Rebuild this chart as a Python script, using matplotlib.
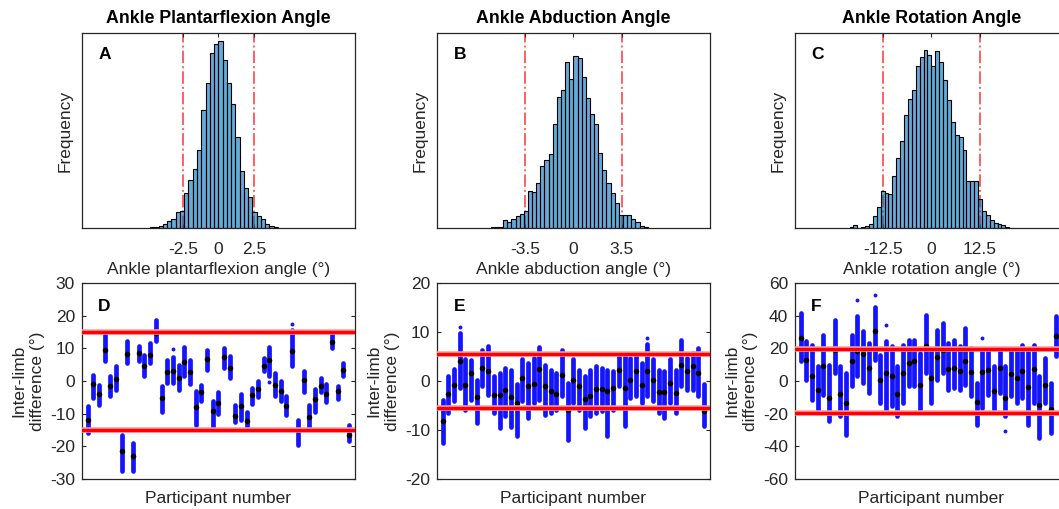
import numpy as np
import matplotlib
matplotlib.use('Agg')
import matplotlib.pyplot as plt

plt.rcParams['font.family'] = ['Liberation Sans', 'DejaVu Sans']
plt.rcParams['font.size'] = 12.5
plt.rcParams['axes.unicode_minus'] = False
plt.rcParams['text.color'] = '#262626'
plt.rcParams['axes.labelcolor'] = '#262626'
plt.rcParams['xtick.color'] = '#262626'
plt.rcParams['ytick.color'] = '#262626'

# ---- histogram data (bin start, bin width, counts) ----
pf_start, pf_width = -4.8, 0.3
pf_counts = [3, 4, 7, 13, 22, 28, 49, 50, 107, 145, 177, 235, 355, 437, 528,
             555, 565, 507, 437, 373, 275, 173, 120, 95, 48, 37, 28, 13, 7, 2]
ab_start, ab_width = -6.0, 0.3
ab_counts = [2, 3, 4, 23, 17, 28, 35, 42, 52, 113, 110, 137, 187, 205, 223, 315,
             395, 417, 500, 449, 520, 512, 455, 392, 345, 315, 225, 175, 135, 107,
             75, 40, 40, 40, 27, 17, 5, 2]
rot_start, rot_width = -21.0, 1.0
rot_counts = [2, 8, 1, 4, 7, 13, 35, 62, 113, 107, 102, 158, 210, 263, 340, 390,
              415, 490, 517, 537, 523, 490, 533, 500, 445, 385, 320, 280, 275, 235,
              143, 143, 143, 88, 50, 40, 25, 15, 13, 10, 4, 1]

pf_limit, ab_limit, rot_limit = 2.5, 3.5, 12.5

# ---- inter-limb differences per participant: median, lowest, highest ----
pf_med = [-11.8, -0.9, -3.9, 9.6, -1.6, 0.6, -21.5, 8.4, -22.9, 8.6, 4.5, 8.0, 14.7,
          -5.3, 2.7, 3.1, 0.9, 5.7, 2.9, -8.1, -3.5, 6.7, -9.3, -6.7, 7.3, 4.0, -10.6,
          -7.8, -12.3, -4.2, -2.4, 4.7, 6.5, -1.1, -3.2, -7.8, 9.3, -14.9, 0.4, -11.1,
          -5.5, -1.4, -4.0, 11.8, -3.1, 3.5, -16.4]
pf_lo = [-15.9, -5.2, -7.2, 6.0, -4.7, -2.7, -27.7, 5.5, -27.7, 6.0, 1.6, 5.5, 12.1,
         -9.6, -0.6, -0.6, -2.7, 1.6, -0.8, -13.4, -6.2, 3.5, -14.0, -10.0, 4.0, 1.0,
         -12.5, -12.0, -14.0, -7.0, -5.0, 3.0, 1.5, -4.5, -6.0, -10.5, 4.5, -19.5, -3.5,
         -14.5, -9.5, -3.5, -6.5, 10.0, -5.5, 1.5, -18.5]
pf_hi = [-7.8, 1.9, -1.1, 14.2, 1.4, 4.5, -16.6, 12.1, -19.0, 10.8, 8.1, 11.6, 18.8,
         -1.6, 6.3, 7.3, 5.0, 10.4, 6.5, -3.2, -1.1, 9.5, -6.0, -3.5, 10.0, 7.5, -7.5,
         -4.0, -9.5, -2.0, 0.0, 7.0, 10.5, 2.5, 0.0, -4.5, 15.5, -12.0, 3.0, -7.5, -2.5,
         1.0, -1.0, 14.5, -1.5, 5.5, -13.5]
pf_out_id = [16, 33, 37]
pf_out_val = [9.8, -0.3, 17.5]
pf_band = 15

ab_med = [-8.2, -2.7, -0.9, 4.1, -0.9, 1.6, -3.3, 2.7, 2.1, -2.8, -2.9, -1.8, -3.3,
          -4.5, 0.6, -1.0, -0.7, 2.4, -1.0, -2.1, -2.6, 1.3, -5.9, 0.3, -1.0, -3.7,
          -3.0, -1.6, -1.6, -2.0, -1.5, 2.3, -1.5, 0.1, 2.1, -0.9, 2.1, 0.1, -2.2, -2.2,
          -0.4, -2.4, 3.3, 2.1, 3.0, 1.6, -6.1]
ab_lo = [-12.7, -6.5, -4.1, -1.4, -5.9, -3.8, -8.6, -1.1, -2.8, -6.5, -9.6, -7.2, -9.3,
         -11.3, -4.1, -7.6, -4.5, -3.8, -6.9, -6.5, -5.9, -3.1, -12.0, -4.5, -5.9, -9.6,
         -7.2, -6.5, -6.2, -11.3, -5.9, -1.1, -9.2, -3.5, -3.1, -4.5, -3.1, -4.1, -6.5,
         -7.6, -4.5, -6.5, -1.1, -1.8, -1.8, -3.1, -9.2]
ab_hi = [-3.8, 1.0, 2.4, 9.8, 4.4, 4.2, 0.3, 6.4, 7.1, 1.0, 1.6, 2.7, 2.3, -0.7, 4.4,
         3.7, 4.7, 6.9, 3.3, 2.3, 1.6, 6.3, -0.5, 4.4, 2.3, 1.0, 2.3, 3.0, 2.7, 2.3,
         2.0, 5.4, 5.0, 4.7, 5.0, 3.7, 7.5, 4.4, 2.3, 2.0, 4.4, 2.3, 8.4, 4.7, 5.7, 6.7,
         -0.7]
ab_out_id = [4, 37]
ab_out_val = [11.0, 8.8]
ab_band = 5.5

rot_med = [26.3, 13.1, 2.9, -5.3, 9.0, -10.6, 19.2, -7.8, -13.5, 12.0, 18.6, 16.5, 8.0,
           30.8, 0.8, 4.9, 2.9, -7.8, 4.9, 11.0, 12.0, -2.2, 21.2, 1.8, 14.5, 19.2, 7.3,
           8.0, 6.3, 12.4, 5.3, -12.9, 5.3, 6.9, -6.1, 8.0, -10.4, 4.3, 1.8, 6.3, -3.9,
           7.3, -14.5, -2.7, -17.1, 27.8]
rot_lo = [12.0, 0.8, -11.4, -18.6, -8.4, -24.7, 4.9, -21.6, -32.9, -3.3, 2.9, -1.2,
          -7.3, 13.1, -13.5, -17.6, -15.5, -21.6, -13.5, -3.3, -3.3, -17.6, 4.9, -13.5,
          0.8, 4.9, -5.3, -4.3, -5.3, -2.2, -9.4, -26.7, -16.5, -8.4, -17.6, -7.3, -21.6,
          -9.4, -13.5, -10.4, -26.7, -13.5, -34.9, -13.5, -31.8, 15.1]
rot_hi = [41.6, 24.3, 22.2, 9.0, 28.4, 10.0, 37.6, 9.0, 4.9, 28.4, 39.6, 30.4, 23.3,
          45.0, 16.1, 24.3, 21.2, 9.0, 22.2, 25.3, 25.3, 17.1, 40.6, 19.2, 31.4, 35.5,
          23.3, 25.3, 21.2, 32.4, 20.2, -1.2, 18.2, 18.2, 9.0, 18.2, 9.0, 18.2, 18.2,
          22.2, 19.2, 22.2, 2.9, 14.1, -1.2, 39.6]
rot_out_id = [11, 14, 16, 33, 37]
rot_out_val = [49.8, 52.9, 34.5, 26.3, -30.8]
rot_band = 19.5

n_participants = 47

hist_panels = [
    ('Ankle Plantarflexion Angle', 'A', 'Ankle plantarflexion angle (°)',
     pf_start, pf_width, pf_counts, pf_limit, 9.6, ['-2.5', '0', '2.5']),
    ('Ankle Abduction Angle', 'B', 'Ankle abduction angle (°)',
     ab_start, ab_width, ab_counts, ab_limit, 9.9, ['-3.5', '0', '3.5']),
    ('Ankle Rotation Angle', 'C', 'Ankle rotation angle (°)',
     rot_start, rot_width, rot_counts, rot_limit, 35, ['-12.5', '0', '12.5']),
]
diff_panels = [
    ('D', pf_med, pf_lo, pf_hi, pf_out_id, pf_out_val, pf_band, 30, 10),
    ('E', ab_med, ab_lo, ab_hi, ab_out_id, ab_out_val, ab_band, 20, 10),
    ('F', rot_med, rot_lo, rot_hi, rot_out_id, rot_out_val, rot_band, 60, 20),
]

fig = plt.figure(figsize=(10.59, 5.09), dpi=100)
lefts = [0.0774, 0.4127, 0.7507]
w = 0.2575
edge_col = '#262626'
bar_face = (0.0, 0.447, 0.741, 0.6)


def style_box(ax):
    for s in ax.spines.values():
        s.set_color(edge_col)
        s.set_linewidth(0.9)


for i, (title, letter, xlab, start, bw, counts, lim, half, tlabels) in enumerate(hist_panels):
    ax = fig.add_axes([lefts[i], 0.552, w, 0.383])
    counts = np.array(counts, dtype=float)
    edges = start + bw * np.arange(len(counts) + 1)
    ax.axvline(-lim, color='#ff6060', ls='-.', lw=1.4, zorder=1)
    ax.axvline(lim, color='#ff6060', ls='-.', lw=1.4, zorder=1)
    ax.bar(edges[:-1], counts, width=bw, align='edge', facecolor=bar_face,
           edgecolor='black', linewidth=0.8, zorder=2)
    ax.set_xlim(-half, half)
    ax.set_ylim(0, 588)
    ax.set_yticks([])
    ax.set_xticks([-lim, 0, lim])
    ax.set_xticklabels(tlabels)
    ax.tick_params(axis='x', direction='in', length=3, top=True, pad=10, width=0.8)
    ax.set_title(title, fontweight='bold', fontsize=12.8, color='black', pad=7)
    ax.set_xlabel(xlab, labelpad=4)
    ax.set_ylabel('Frequency')
    ax.yaxis.set_label_coords(-0.033, 0.5)
    ax.text(0.06, 0.93, letter, transform=ax.transAxes, fontweight='bold',
            fontsize=12.5, color='black', va='top', ha='left')
    style_box(ax)

for i, (letter, med, lo, hi, out_id, out_val, band, ymax, step) in enumerate(diff_panels):
    ax = fig.add_axes([lefts[i], 0.059, w, 0.385])
    pid = np.arange(1, len(med) + 1)
    ax.vlines(pid, lo, hi, colors='#1414ff', lw=3.4, capstyle='round', zorder=2)
    ax.plot(out_id, out_val, 'o', color='#1414ff', ms=2.8, mew=0, zorder=2)
    ax.plot(pid, med, 'o', color='black', ms=4.0, mew=0, zorder=3)
    for y in (band, -band):
        ax.axhline(y, color='#ff9a9a', lw=4.0, zorder=4)
        ax.axhline(y, color='red', lw=2.4, zorder=5)
    ax.set_xlim(0, n_participants + 1)
    ax.set_ylim(-ymax, ymax)
    ax.set_xticks([])
    ax.set_yticks(np.arange(-ymax, ymax + 1, step))
    ax.tick_params(axis='y', direction='in', length=3, right=True, pad=5, width=0.8)
    ax.set_xlabel('Participant number', labelpad=9)
    ax.set_ylabel('Inter-limb\ndifference (°)', linespacing=1.3)
    ax.yaxis.set_label_coords(-0.135, 0.5)
    ax.text(0.06, 0.92, letter, transform=ax.transAxes, fontweight='bold',
            fontsize=12.5, color='black', va='top', ha='left')
    style_box(ax)

fig.savefig('out.png', dpi=100)
